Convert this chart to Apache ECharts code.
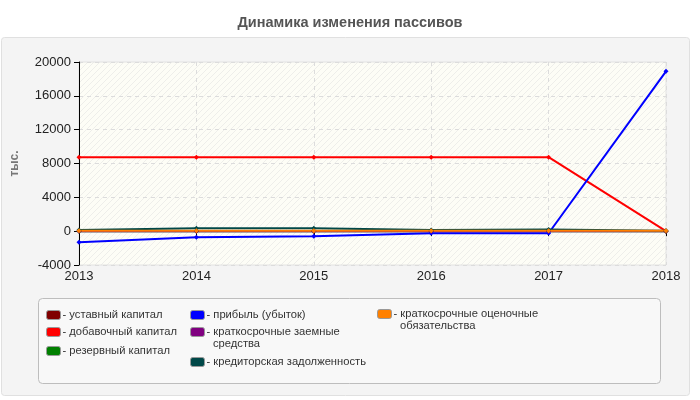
<!DOCTYPE html>
<html><head><meta charset="utf-8">
<script src="https://cdn.jsdelivr.net/npm/echarts@6/dist/echarts.min.js"></script>
<style>html,body{margin:0;padding:0;background:#fff}#c{width:700px;height:400px}</style>
</head><body><div id="c"></div>
<script>
var years = ['2013','2014','2015','2016','2017','2018'];
var ustavny = [10, 10, 10, 10, 10, 10];
var dobavochny = [8750, 8750, 8750, 8750, 8750, 0];
var rezervny = [0, 0, 0, 0, 0, 0];
var pribyl = [-1300, -720, -600, -250, -250, 18900];
var zaemnye = [0, 0, 0, 0, 0, 0];
var kreditorskaya = [150, 350, 350, 150, 200, 50];
var ocenochnye = [50, 50, 50, 50, 50, 50];
var names = ['уставный капитал','добавочный капитал','резервный капитал','прибыль (убыток)','краткосрочные заемные средства','кредиторская задолженность','краткосрочные оценочные обязательства'];
var firstLine = {
  'краткосрочные заемные средства': 'краткосрочные заемные',
  'краткосрочные оценочные обязательства': 'краткосрочные оценочные'
};
var secondLine = {
  'краткосрочные заемные средства': 'средства',
  'краткосрочные оценочные обязательства': 'обязательства'
};
var colors = ['#800000','#ff0000','#008000','#0000ff','#800080','#004848','#ff8000'];
var values = [ustavny, dobavochny, rezervny, pribyl, zaemnye, kreditorskaya, ocenochnye];
// legend layout: [left, center y of first line]
var legendPos = [[46,315],[46,332],[46,351],[190,315],[190,332],[190,362],[377,314]];

var pc = document.createElement('canvas');
pc.width = 6; pc.height = 6;
var g = pc.getContext('2d');
g.fillStyle = '#fdfdf6'; g.fillRect(0,0,6,6);
g.strokeStyle = '#eeeeea'; g.lineWidth = 1;
g.beginPath(); g.moveTo(0,6); g.lineTo(6,0); g.stroke();
g.beginPath(); g.moveTo(-3,3); g.lineTo(3,-3); g.stroke();
g.beginPath(); g.moveTo(3,9); g.lineTo(9,3); g.stroke();

var series = names.map(function(n, i){
  return {
    name: n, type: 'line', data: values[i],
    symbol: 'diamond', symbolSize: 5,
    lineStyle: {color: colors[i], width: 2},
    itemStyle: {color: colors[i]},
    emphasis: {disabled: true}
  };
});

var legends = names.map(function(n, i){
  return {
    orient: 'vertical', left: legendPos[i][0], top: legendPos[i][1] - 7, data: [n],
    icon: 'roundRect', itemWidth: 14, itemHeight: 9,
    itemStyle: {borderColor: '#999', borderWidth: 1},
    formatter: function(nm){ return '- ' + (firstLine[nm] || nm); },
    textStyle: {fontSize: 11.2, color: '#333', fontFamily: 'Arial', lineHeight: 14, padding: [0,0,0,-3]},
    selectedMode: false, padding: 0
  };
});

var graphics = [
  {type: 'rect', z: -10, shape: {x: 1.5, y: 37.5, width: 688, height: 358, r: 3},
    style: {fill: '#f4f4f4', stroke: '#e0e0e0', lineWidth: 1}},
  {type: 'rect', z: -9, shape: {x: 38.5, y: 298.5, width: 622, height: 85, r: 4},
    style: {fill: '#f8f8f8', stroke: '#bdbdbd', lineWidth: 1}}
];
names.forEach(function(n, i){
  if (secondLine[n]) {
    graphics.push({type: 'text', z: 10, left: legendPos[i][0] + 23, top: legendPos[i][1] + 6,
      style: {text: secondLine[n], fontSize: 11.2, fill: '#333', fontFamily: 'Arial'}});
  }
});

var chart = echarts.init(document.getElementById('c'), null, {renderer: 'canvas'});
chart.setOption({
  animation: false,
  backgroundColor: '#fff',
  title: {text: 'Динамика изменения пассивов', left: 'center', top: 10,
    textStyle: {fontSize: 14.5, fontWeight: 'bold', color: '#555', fontFamily: 'Arial'}},
  graphic: graphics,
  legend: legends,
  grid: {left: 79, right: 34, top: 62, bottom: 135, show: true,
    backgroundColor: {image: pc, repeat: 'repeat'}, borderColor: '#e2e2e2', borderWidth: 1},
  xAxis: {type: 'category', data: years, boundaryGap: false,
    axisLine: {lineStyle: {color: '#000', width: 1}},
    axisTick: {show: true, length: 5, lineStyle: {color: '#000'}},
    axisLabel: {fontSize: 13, color: '#222', fontFamily: 'Arial', margin: 5},
    splitLine: {show: true, lineStyle: {color: '#dcdcdc', type: [4,4]}}},
  yAxis: {type: 'value', min: -4000, max: 20000, interval: 4000,
    name: 'тыс.', nameLocation: 'middle', nameGap: 58,
    nameTextStyle: {fontSize: 12, fontWeight: 'bold', color: '#777', fontFamily: 'Arial'},
    axisLine: {show: true, lineStyle: {color: '#000', width: 1}},
    axisTick: {show: true, length: 5, lineStyle: {color: '#000'}},
    axisLabel: {fontSize: 13, color: '#222', fontFamily: 'Arial', margin: 8,
      formatter: function(v){ return String(v); }},
    splitLine: {show: true, lineStyle: {color: '#dcdcdc', type: [4,4]}}},
  series: series
});
</script></body></html>
